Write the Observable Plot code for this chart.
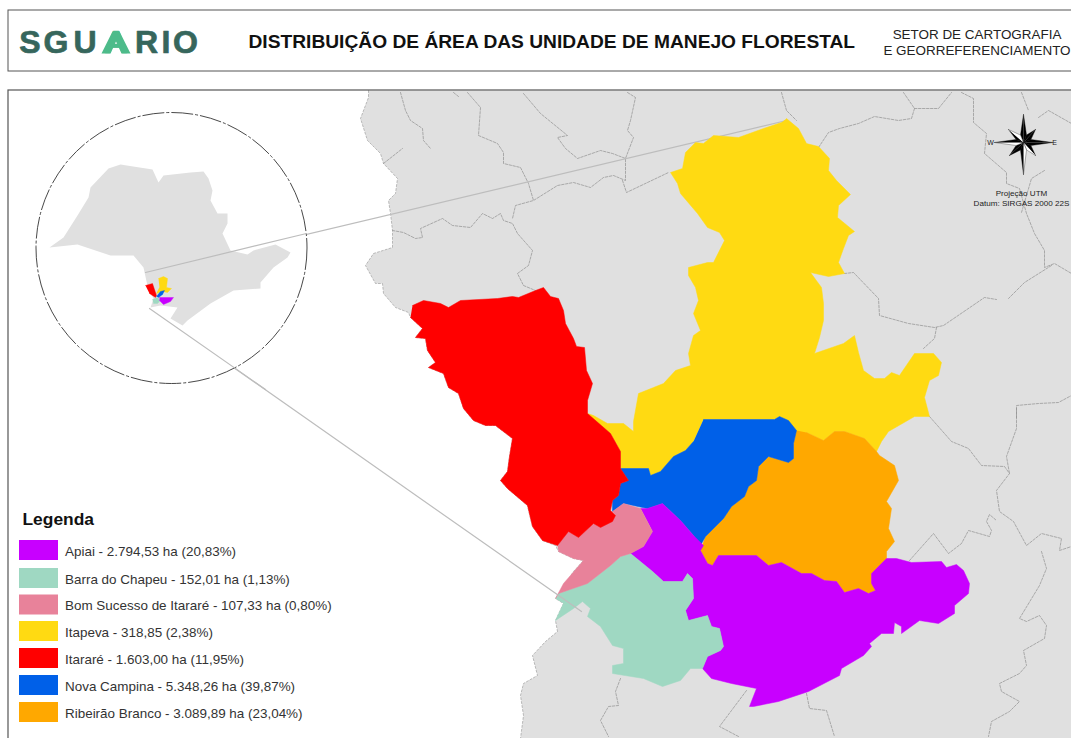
<!DOCTYPE html>
<html lang="pt">
<head>
<meta charset="utf-8">
<title>Distribuição de área das unidade de manejo florestal</title>
<script src="https://cdn.jsdelivr.net/npm/d3@7"></script>
<script src="https://cdn.jsdelivr.net/npm/@observablehq/plot@0.6"></script>
<style>
html,body{margin:0;padding:0;background:#fff;overflow:hidden;width:1071px;height:738px}
svg{display:block}
</style>
</head>
<body>
<div id="chart"></div>
<script>
const municipalities = ["Apiai","Barra do Chapeu","Bom Sucesso de Itararé","Itapeva","Itararé","Nova Campina","Ribeirão Branco"];
const legendLabels = ["Apiai - 2.794,53 ha (20,83%)","Barra do Chapeu - 152,01 ha (1,13%)","Bom Sucesso de Itararé - 107,33 ha (0,80%)","Itapeva - 318,85 (2,38%)","Itararé - 1.603,00 ha (11,95%)","Nova Campina - 5.348,26 ha (39,87%)","Ribeirão Branco - 3.089,89 ha (23,04%)"];
const municipalityColors = ["#C800FF","#9FD8C2","#E8829A","#FFDA12","#FF0000","#0060E8","#FFA800"];

const westEdge = [[368,90],[368,97],[360,118],[367,140],[380,153],[383,163],[397,178],[395,193],[388,200],[390,213],[392,230],[392,247],[373,253],[365,265],[375,283],[382,283],[383,293],[395,307],[408,312],[410,317],[422,328],[415,337],[425,338],[427,350],[435,362],[428,367],[443,373],[448,387],[458,393],[463,408],[473,420],[485,425],[495,425],[512,438],[509,456],[507,471],[500,480],[507,488],[527,505],[532,526],[542,540],[555,545],[558,551],[573,558],[583,560],[573,571],[557,596],[555,598],[563,603],[555,620],[557,631],[545,641],[532,655],[537,675],[523,683],[520,695],[523,715],[520,738]];
const landCorners = [[1071,738],[1071,90]];

const itapeva = [[786,118],[798,128],[806,143],[818,146],[829,158],[828,170],[836,180],[850,194],[838,205],[837,217],[854,231],[848,235],[843,248],[838,262],[844,273],[828,276],[810,272],[821,287],[823,303],[823,320],[819,337],[814,353],[843,343],[854,335],[858,352],[863,370],[874,378],[884,378],[891,372],[899,375],[914,353],[933,353],[941,362],[938,375],[929,380],[924,397],[929,416],[914,416],[888,431],[881,441],[876,451],[864,438],[844,431],[834,431],[823,440],[806,432],[793,436],[788,420],[779,416],[774,419],[703,419],[693,441],[685,450],[673,456],[660,471],[650,475],[648,468],[620,468],[620,451],[610,433],[590,418],[587,413],[593,415],[607,423],[623,423],[633,431],[633,421],[638,393],[653,387],[663,383],[675,370],[690,365],[688,353],[693,335],[700,330],[693,313],[698,300],[695,287],[688,275],[688,267],[707,262],[713,262],[724,240],[719,232],[707,227],[697,213],[680,193],[677,183],[670,172],[682,168],[685,152],[695,142],[703,143],[713,135],[738,137],[763,128],[781,122]];
const itarare = [[412,305],[423,300],[440,303],[448,307],[460,300],[497,298],[512,296],[518,297],[535,290],[543,287],[550,296],[558,298],[563,310],[565,323],[573,338],[576,346],[584,347],[586,370],[592,383],[587,400],[587,413],[610,433],[620,451],[620,468],[628,480],[620,483],[618,495],[612,500],[610,510],[615,515],[612,521],[600,527],[593,523],[578,537],[568,531],[557,545],[542,540],[532,526],[527,505],[507,488],[500,480],[507,471],[509,456],[512,438],[495,425],[485,425],[473,420],[463,408],[458,393],[448,387],[443,373],[428,367],[435,362],[427,350],[425,338],[415,337],[422,328],[410,317]];
const novaCampina = [[703,419],[774,419],[779,416],[788,420],[796,430],[793,443],[793,458],[788,462],[768,456],[758,466],[756,480],[748,486],[744,496],[731,506],[723,518],[705,536],[700,545],[693,535],[680,520],[662,503],[647,508],[623,503],[612,511],[612,500],[618,495],[620,483],[628,480],[620,468],[648,468],[650,475],[660,471],[673,456],[685,450],[693,441]];
const ribeiraoBranco = [[806,432],[823,440],[834,431],[844,431],[864,438],[876,451],[879,455],[894,465],[898,480],[886,501],[891,508],[888,528],[894,541],[886,551],[886,558],[871,573],[871,583],[875,590],[868,593],[858,588],[844,592],[836,581],[824,580],[811,573],[801,573],[781,562],[768,565],[756,555],[718,555],[712,565],[707,563],[700,550],[705,536],[723,518],[731,506],[744,496],[748,486],[756,480],[758,466],[768,456],[788,462],[793,458],[793,443],[796,430]];
const apiai = [[640,508],[647,508],[662,503],[680,520],[693,535],[703,545],[700,550],[707,563],[712,565],[718,555],[756,555],[768,565],[781,562],[801,573],[811,573],[824,580],[836,581],[844,592],[858,588],[868,593],[875,590],[871,583],[871,573],[886,558],[896,558],[911,562],[941,561],[946,567],[956,564],[963,570],[969,583],[968,593],[954,605],[954,613],[938,623],[919,620],[901,633],[901,626],[894,622],[893,633],[881,633],[869,643],[871,646],[863,655],[841,668],[839,675],[808,691],[778,701],[753,706],[749,706],[756,688],[731,683],[711,678],[702,668],[707,656],[720,650],[723,646],[719,628],[711,626],[707,615],[688,620],[685,610],[693,598],[692,578],[687,573],[682,581],[663,581],[652,571],[630,553],[643,546],[652,531]];
const barraDoChapeu = [[555,598],[558,593],[587,583],[610,565],[620,556],[630,553],[652,571],[663,581],[682,581],[687,573],[692,578],[693,598],[685,610],[688,620],[707,615],[711,626],[719,628],[723,646],[720,650],[707,656],[702,668],[690,668],[680,680],[662,686],[643,678],[612,673],[612,665],[623,663],[623,648],[612,645],[600,626],[587,616],[590,608],[582,601],[573,608],[555,620],[563,603]];
const bomSucesso = [[557,545],[568,531],[578,537],[593,523],[600,527],[612,521],[615,515],[612,511],[623,503],[640,508],[652,531],[643,546],[630,553],[620,556],[610,565],[587,583],[558,593],[555,598],[563,583],[583,560],[573,558],[558,551]];

const borderLines = [
 [[400,92],[405,110],[410,120],[422,128],[423,140],[430,148]],
 [[383,163],[402,148]],
 [[467,92],[480,107],[478,135],[497,143],[503,152],[503,163],[520,167],[528,183],[533,200]],
 [[453,92],[458,96]],
 [[523,93],[540,113],[567,135],[557,137],[565,148],[577,158],[600,150],[612,153],[625,158]],
 [[627,92],[635,97],[630,120],[627,130],[633,137],[625,158],[625,173],[625,180],[613,175],[603,177],[590,187],[573,182],[557,185],[533,200],[515,205],[512,218]],
 [[622,180],[626,192],[668,172]],
 [[392,230],[403,232],[415,238],[422,237],[420,228],[442,218],[452,225],[470,227],[482,213],[492,218],[500,213],[503,220],[512,223],[517,233],[532,250],[528,265],[517,273],[523,285],[535,290]],
 [[781,92],[786,110],[796,120]],
 [[818,147],[828,132],[839,128],[858,123],[874,116],[898,120],[911,118],[914,108],[903,92]],
 [[914,108],[938,108],[951,92]],
 [[961,92],[973,98],[973,122],[986,133],[984,153],[1006,172],[1006,183],[1019,188],[1026,213],[1034,233],[1044,250],[1044,267],[1054,263],[1071,273]],
 [[1021,92],[1028,110]],
 [[1044,170],[1031,178],[1021,212]],
 [[1038,117],[1048,110],[1071,123]],
 [[844,273],[853,272],[878,298],[879,315],[908,323],[934,327],[943,325],[984,297],[996,299]],
 [[1008,298],[1024,282],[1051,265]],
 [[936,327],[934,338],[923,348]],
 [[1016,417],[1016,405],[1038,403],[1058,402],[1071,395]],
 [[929,416],[951,441],[968,448],[981,465],[1004,466],[1009,473],[996,490],[999,511],[1013,521],[1026,545],[1041,533],[1061,538],[1059,550],[1071,546]],
 [[1016,408],[1016,428],[1006,456],[1009,473]],
 [[909,560],[933,533],[948,553],[961,543],[968,530],[989,536],[991,530],[986,521],[989,514],[996,520]],
 [[1041,551],[1046,568],[1039,585],[1019,618],[1026,621],[1039,615],[1046,625],[1044,638],[1023,650],[1026,665],[1019,673],[999,683],[1001,691],[1019,701],[1009,711],[991,721],[988,736]],
 [[806,693],[809,708],[826,710],[834,736]],
 [[746,690],[731,710],[719,726],[738,736]],
 [[620,678],[615,691],[618,705],[608,706],[600,720],[608,736]]
];
const leaderBehind = [[145,272],[786,120]];
const leaderFront = [[149,308],[581,611]];

const stateOutline = [[49,247],[63,237],[77,215],[88,197],[90,187],[108,168],[120,164],[152,169],[158,182],[163,175],[190,172],[203,171],[208,178],[212,190],[210,200],[217,213],[227,213],[227,223],[222,233],[230,250],[247,254],[253,250],[275,244],[290,252],[287,257],[273,267],[260,282],[260,288],[233,290],[210,303],[187,320],[182,325],[170,318],[177,307],[160,305],[150,307],[153,298],[148,290],[143,267],[133,255],[110,255],[77,244]];
const insetItarare = [[145,285],[152,283],[156,295],[155,297],[149,293]];
const insetItapeva = [[158,278],[163,276],[167,278],[166,287],[171,288],[167,292],[162,291],[156,293],[159,287]];
const insetNovaCampina = [[156,296],[160,291],[164,290],[162,294],[158,297]];
const insetApiai = [[159,297],[173,297],[170,301],[163,304],[159,300]];
const insetBarra = [[152,299],[157,297],[160,300],[157,303],[153,303]];
const insetCircle = [[171,247.5]];

const compassCenter = [1023,142];
const compassTips = [[1023,114],[1035,129],[1052,142],[1035,155],[1023,174],[1009,155],[994,142],[1008,129]];
const compassInner = [[1020,134.6],[1026,134.6],[1030.4,139],[1030.4,145],[1026,149.4],[1020,149.4],[1015.6,145],[1015.6,139]];
const compassLeftShade = [1,1,1,1,0,1,0,1];
const compassRightShade = [1,1,1,0,1,1,1,0];

const logoLetters = ["S","G","U","A","R","I","O"];
const logoCentres = [29.5,55.5,84.5,115.5,146,165.5,185];
const logoAShape = [[101,53],[112,31],[119,31],[130,53],[121,53],[115.5,41],[110,53]];

const titleText = "DISTRIBUIÇÃO DE ÁREA DAS UNIDADE DE MANEJO FLORESTAL";
const sectorLines = ["SETOR DE CARTOGRAFIA","E GEORREFERENCIAMENTO"];
const projectionLines = ["Projeção UTM","Datum: SIRGAS 2000 22S"];
const legendTitle = "Legenda";

// layout helpers
const pts = (arr, name) => arr.map(([x, y]) => ({x, y, name}));
const regions = [
  pts(westEdge.concat(landCorners), "land")
];
const munis = [
  pts(itapeva, "Itapeva"), pts(ribeiraoBranco, "Ribeirão Branco"), pts(novaCampina, "Nova Campina"),
  pts(apiai, "Apiai"), pts(barraDoChapeu, "Barra do Chapeu"), pts(bomSucesso, "Bom Sucesso de Itararé"), pts(itarare, "Itararé")
].flat();
const insetMunis = [
  pts(insetItapeva, "Itapeva"), pts(insetItarare, "Itararé"), pts(insetBarra, "Barra do Chapeu"),
  pts(insetApiai, "Apiai"), pts(insetNovaCampina, "Nova Campina")
].flat();
const borders = borderLines.flatMap((l, i) => pts(l, i));

const compassParts = [];
compassTips.forEach((tip, i) => {
  compassParts.push(...[tip, compassInner[i], compassCenter].map(([x, y]) => ({x, y, id: "L" + i, dark: compassLeftShade[i]})));
  const nx = compassInner[(i + 1) % 8];
  compassParts.push(...[tip, nx, compassCenter].map(([x, y]) => ({x, y, id: "R" + i, dark: compassRightShade[i]})));
});

const legendRows = municipalities.map((m, i) => ({name: m, label: legendLabels[i], i}));
const rowTops = [540, 568, 594.5, 621, 648, 675, 702];

const F = "Liberation Sans, Arial, sans-serif";
const plot = Plot.plot({
  width: 1071, height: 738, margin: 0,
  style: {fontFamily: F, background: "#fff"},
  x: {domain: [0, 1071], range: [0, 1071], axis: null},
  y: {domain: [0, 738], range: [0, 738], axis: null},
  color: {domain: municipalities, range: municipalityColors},
  marks: [
    // main map: land and municipal borders
    Plot.line(regions[0], {x: "x", y: "y", fill: "#E0E0E0", stroke: "none"}),
    Plot.line(pts(westEdge, "w"), {x: "x", y: "y", stroke: "#a0a0a0", strokeWidth: 0.7, strokeDasharray: "2,2"}),
    Plot.line(borders, {x: "x", y: "y", z: "name", stroke: "#8f8f8f", strokeWidth: 0.7, strokeDasharray: "2.5,1.5"}),
    Plot.line(pts(leaderBehind, "a"), {x: "x", y: "y", stroke: "#BDBDBD", strokeWidth: 1.2}),
    Plot.line(munis, {x: "x", y: "y", z: "name", fill: "name", stroke: "name", strokeWidth: 0.5}),
    Plot.line(pts(leaderFront, "b"), {x: "x", y: "y", stroke: "#BDBDBD", strokeWidth: 1.2}),

    // locator inset
    Plot.dot(insetCircle, {x: d => d[0], y: d => d[1], r: 135.5, fill: "#fff", stroke: "#333", strokeWidth: 0.9, strokeDasharray: "22,2,3,2"}),
    Plot.line(pts(stateOutline, "sp"), {x: "x", y: "y", fill: "#E0E0E0", stroke: "none"}),
    Plot.line(insetMunis, {x: "x", y: "y", z: "name", fill: "name", stroke: "name", strokeWidth: 0.4}),
    Plot.line(pts([leaderBehind[0], [306, 233]], "a2"), {x: "x", y: "y", stroke: "#BDBDBD", strokeWidth: 1.2}),
    Plot.line(pts([leaderFront[0], [265, 389]], "b2"), {x: "x", y: "y", stroke: "#BDBDBD", strokeWidth: 1.2}),

    // compass
    Plot.line(compassParts, {x: "x", y: "y", z: "id", fill: d => d.dark ? "#000" : "#fff", stroke: d => d.dark ? "#000" : "#333", strokeWidth: 0.4}),
    Plot.text(["W"], {x: () => 990, y: () => 142, text: d => d, fontSize: 7, fill: "#222"}),
    Plot.text(["E"], {x: () => 1054, y: () => 142, text: d => d, fontSize: 7, fill: "#222"}),
    Plot.text(projectionLines, {x: () => 1021, y: (d, i) => 193 + i * 10, text: d => d, fontSize: 8.1, fill: "#222"}),

    // frames
    Plot.rect([0], {x1: () => 8, x2: () => 1080, y1: () => 10, y2: () => 71, fill: "none", stroke: "#555", strokeWidth: 1}),
    Plot.rect([0], {x1: () => 8, x2: () => 1080, y1: () => 90, y2: () => 745, fill: "none", stroke: "#555", strokeWidth: 1.2}),

    // header
    Plot.text(logoLetters, {x: (d, i) => logoCentres[i], y: () => 42, text: d => d, fontSize: 32, fontWeight: 700,
      fill: d => d === "A" ? "#4DBB8A" : "#36665C", stroke: d => d === "A" ? "#4DBB8A" : "#36665C", strokeWidth: 0.7}),
    Plot.line(pts(logoAShape, "logoA"), {x: "x", y: "y", fill: "#4DBB8A", stroke: "none"}),
    Plot.text([titleText], {x: () => 248, y: () => 41, text: d => d, textAnchor: "start", fontSize: 19.2, fontWeight: 700, fill: "#111"}),
    Plot.text(sectorLines, {x: () => 976.5, y: (d, i) => 34 + i * 16, text: d => d, fontSize: 13.45, fill: "#222"}),

    // legend
    Plot.text([legendTitle], {x: () => 22, y: () => 519, text: d => d, textAnchor: "start", fontSize: 17.4, fontWeight: 700, fill: "#111"}),
    Plot.rect(legendRows, {x1: () => 19, x2: () => 58, y1: d => rowTops[d.i], y2: d => rowTops[d.i] + 20, fill: "name"}),
    Plot.text(legendRows, {x: () => 64.5, y: d => rowTops[d.i] + 11, text: "label", textAnchor: "start", fontSize: 13.45, fill: "#333"})
  ]
});
document.getElementById("chart").appendChild(plot);
</script>
</body>
</html>
